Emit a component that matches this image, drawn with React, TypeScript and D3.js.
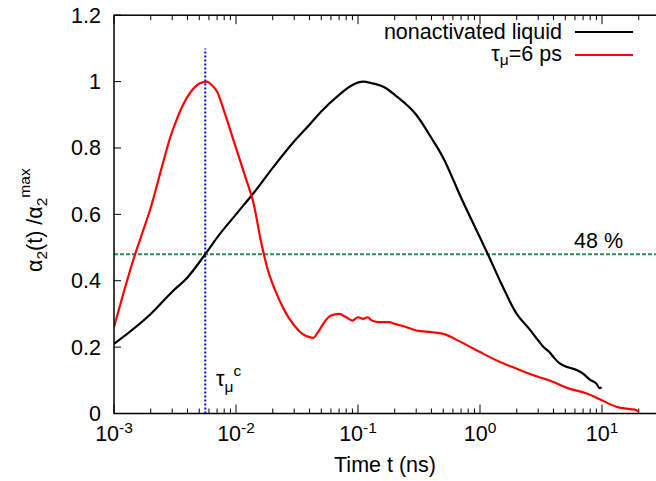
import React from "react";
import * as d3 from "d3";

// ---- data ----
const blackT = [1e-3, 2e-3, 3e-3, 4e-3, 5.6e-3, 7e-3, 1e-2, 1.4e-2, 2e-2, 3e-2, 4e-2, 5e-2, 7e-2, 0.09, 0.11, 0.13, 0.17, 0.2, 0.3, 0.4, 0.5, 0.7, 1.0, 1.16, 1.5, 2.0, 2.57, 3.0, 3.3, 3.7, 4.0, 4.5, 5.0, 5.5, 6.2, 7.0, 8.0, 9.0, 9.6, 9.9];
const blackV = [0.21, 0.30, 0.367, 0.41, 0.48, 0.53, 0.6, 0.665, 0.74, 0.82, 0.87, 0.91, 0.96, 0.99, 1.0, 0.995, 0.98, 0.96, 0.9, 0.83, 0.77, 0.65, 0.53, 0.48, 0.39, 0.3, 0.252, 0.22, 0.201, 0.185, 0.17, 0.151, 0.142, 0.137, 0.131, 0.12, 0.101, 0.09, 0.076, 0.08];

const redT = [1e-3, 1.49e-3, 1.74e-3, 2e-3, 2.5e-3, 2.88e-3, 3.3e-3, 3.94e-3, 5.06e-3, 5.8e-3, 6.3e-3, 7e-3, 8e-3, 1e-2, 1.2e-2, 1.4e-2, 1.6e-2, 1.8e-2, 2.1e-2, 2.5e-2, 3e-2, 3.5e-2, 4e-2, 4.3e-2, 4.7e-2, 5.3e-2, 6e-2, 7e-2, 8e-2, 9e-2, 0.1, 0.11, 0.12, 0.13, 0.15, 0.18, 0.2, 0.25, 0.3, 0.4, 0.5, 0.7, 1.0, 1.46, 2.0, 2.74, 4.0, 5.1, 7.5, 9.6, 13.2, 17, 19.2, 20];
const redV = [0.26, 0.48, 0.553, 0.62, 0.75, 0.83, 0.89, 0.95, 0.995, 1.0, 0.99, 0.97, 0.91, 0.8, 0.71, 0.63, 0.52, 0.44, 0.37, 0.31, 0.265, 0.24, 0.23, 0.228, 0.245, 0.275, 0.295, 0.30, 0.29, 0.28, 0.29, 0.285, 0.29, 0.28, 0.275, 0.275, 0.27, 0.26, 0.25, 0.245, 0.24, 0.215, 0.185, 0.155, 0.135, 0.115, 0.095, 0.078, 0.06, 0.043, 0.02, 0.013, 0.01, 0.005];

const yTicks = [0, 0.2, 0.4, 0.6, 0.8, 1, 1.2];
const yTickLabels = ["0", "0.2", "0.4", "0.6", "0.8", "1", "1.2"];
const xDecades = [-3, -2, -1, 0, 1, 2];
const tauC = 0.0056;
const level = 0.48;

// ---- layout ----
const W = 656, H = 481;
const L = 114, T = 15.2, B = 413.5, DEC = 122;
const R = L + 5 * DEC;

export default function App() {
  const x = d3.scaleLog().domain([1e-3, 1e2]).range([L, R]);
  const y = d3.scaleLinear().domain([0, 1.2]).range([B, T]);
  const line = d3.line<[number, number]>().x(d => x(d[0])).y(d => y(d[1])).curve(d3.curveMonotoneX);
  const blackPts = blackT.map((t, i) => [t, blackV[i]] as [number, number]);
  const redPts = redT.map((t, i) => [t, redV[i]] as [number, number]);

  const majors = xDecades.map(k => Math.pow(10, k));
  const minors: number[] = [];
  xDecades.forEach(k => { for (let m = 2; m <= 9; m++) minors.push(m * Math.pow(10, k)); });

  const font = "'Liberation Sans', Arial, Helvetica, sans-serif";
  const fs = 21.5;
  const fss = 15.5;

  return (
    <svg width={W} height={H} style={{ position: "absolute", left: 0, top: 0, background: "#fff" }} fontFamily={font}>
      <defs>
        <clipPath id="plot"><rect x={L} y={T} width={R - L} height={B - T} /></clipPath>
      </defs>
      {majors.filter(v => x(v) <= W).map((v, i) => (
        <g key={"M" + i} stroke="#000" strokeWidth={1}>
          <line x1={x(v)} x2={x(v)} y1={B} y2={B - 9} />
          <line x1={x(v)} x2={x(v)} y1={T} y2={T + 9} />
        </g>
      ))}
      {minors.filter(v => x(v) <= W).map((v, i) => (
        <g key={"m" + i} stroke="#000" strokeWidth={1}>
          <line x1={x(v)} x2={x(v)} y1={B} y2={B - 5} />
          <line x1={x(v)} x2={x(v)} y1={T} y2={T + 5} />
        </g>
      ))}
      {yTicks.map((v, i) => (
        <line key={"y" + i} x1={L} x2={L + 7} y1={y(v)} y2={y(v)} stroke="#000" strokeWidth={1} />
      ))}
      <line x1={L} x2={R} y1={y(level)} y2={y(level)} stroke="#2e8b57" strokeWidth={2} strokeDasharray="4,2" />
      <line x1={x(tauC)} x2={x(tauC)} y1={y(0)} y2={y(1.1)} stroke="#0000ff" strokeWidth={2} strokeDasharray="2,2" />
      <g clipPath="url(#plot)">
        <path d={line(blackPts) || ""} fill="none" stroke="#000" strokeWidth={2.2} />
        <path d={line(redPts) || ""} fill="none" stroke="#ff0000" strokeWidth={2.2} />
      </g>
      <rect x={L} y={T} width={R - L} height={B - T} fill="none" stroke="#000" strokeWidth={1.5} />
      {yTicks.map((v, i) => (
        <text key={"yl" + i} x={L - 13} y={y(v)} dy="0.35em" textAnchor="end" fontSize={fs}>{yTickLabels[i]}</text>
      ))}
      {xDecades.filter(k => x(Math.pow(10, k)) < W - 20).map((k, i) => (
        <text key={"xl" + i} x={x(Math.pow(10, k))} y={441} textAnchor="middle" fontSize={fs}>
          10<tspan dy={-8} fontSize={fss}>{k}</tspan>
        </text>
      ))}
      <text x={385} y={472} textAnchor="middle" fontSize={fs}>Time t (ns)</text>
      <text transform="translate(42,272) rotate(-90)" fontSize={fs}>
        α<tspan dy={5} fontSize={fss}>2</tspan><tspan dy={-5}>(t) /α</tspan><tspan dy={5} fontSize={fss}>2</tspan><tspan dy={-17} fontSize={fss}>max</tspan>
      </text>
      <text x={574} y={248} fontSize={fs}>48 %</text>
      <text x={216} y={386} fontSize={fs}>τ<tspan dy={6} fontSize={fss}>μ</tspan><tspan dy={-16} fontSize={fss}>c</tspan></text>
      <text x={562} y={39} textAnchor="end" fontSize={fs}>nonactivated liquid</text>
      <line x1={575} x2={633} y1={32} y2={32} stroke="#000" strokeWidth={2} />
      <text x={562} y={61} textAnchor="end" fontSize={fs}>τ<tspan dy={4} fontSize={fss}>μ</tspan><tspan dy={-4}>=6 ps</tspan></text>
      <line x1={575} x2={633} y1={55} y2={55} stroke="#ff0000" strokeWidth={2} />
    </svg>
  );
}
